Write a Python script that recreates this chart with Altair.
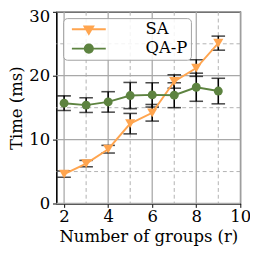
import altair as alt
import pandas as pd

groups = [2, 3, 4, 5, 6, 7, 8, 9]
sa_time = [4.6, 6.25, 8.5, 12.5, 14.2, 19.1, 21.2, 25.1]
sa_err = [0.5, 0.5, 0.6, 1.6, 1.3, 1.05, 1.3, 1.1]
qap_time = [15.7, 15.4, 15.9, 16.9, 17.0, 16.95, 18.2, 17.6]
qap_err = [1.15, 1.15, 1.6, 2.05, 1.9, 1.95, 2.2, 2.0]
series_names = ["SA", "QA-P"]
series_colors = ["#ffa54f", "#5d8340"]
series_shapes = ["triangle-down", "circle"]
series_sizes = [110, 85]
x_ticks = [2, 3, 4, 5, 6, 7, 8, 9, 10]
y_ticks = [0, 5, 10, 15, 20, 25, 30]

rows = []
for name, vals, errs in [("SA", sa_time, sa_err), ("QA-P", qap_time, qap_err)]:
    for g, v, e in zip(groups, vals, errs):
        rows.append({"r": g, "series": name, "t": v, "lo": v - e, "hi": v + e})
df = pd.DataFrame(rows)

xgrid = pd.DataFrame({"v": x_ticks, "minor": [v % 2 == 1 for v in x_ticks]})
ygrid = pd.DataFrame({"v": y_ticks, "minor": [v % 10 != 0 for v in y_ticks]})

FONT = "DejaVu Serif"
TITLE_Y = "Time (ms)"

xscale = alt.Scale(domain=[1.65, 10], nice=False, zero=False)
yscale = alt.Scale(domain=[0, 30], nice=False)
cscale = alt.Scale(domain=series_names, range=series_colors)

xaxis = alt.Axis(
    values=x_ticks, title="Number of groups (r)", grid=False,
    labelExpr="datum.value % 2 == 0 ? datum.label : ''",
    labelOverlap=False, labelFlush=False,
    tickSize={"condition": {"test": "datum.value % 2 == 1", "value": 2}, "value": 4},
    titlePadding=4, labelPadding=2,
)
yaxis = alt.Axis(
    values=y_ticks, title=TITLE_Y, grid=False,
    labelExpr="datum.value % 10 == 0 ? datum.label : ''",
    labelOverlap=False, labelFlush=False,
    labelOffset={"condition": {"test": "datum.value == 30", "value": 5}, "value": 0},
    tickSize={"condition": {"test": "datum.value % 10 != 0", "value": 2}, "value": 4},
    titlePadding=3, labelPadding=3,
)

sa_path = "M-3.5,0H3.5M-0.9,-0.6L0.9,-0.6L0,0.96Z"
qap_path = "M-3.5,0H3.5M-0.85,0A0.85,0.85,0,1,0,0.85,0A0.85,0.85,0,1,0,-0.85,0Z"

legend = alt.Legend(
    title=None, orient="none", legendX=7, legendY=6.5,
    padding=3, symbolSize=100, symbolOffset=15, labelOffset=50,
    rowPadding=1, labelFont=FONT, labelFontSize=17, labelColor="black",
    strokeColor="#a0a0a0", fillColor="rgba(255,255,255,0.85)", cornerRadius=4,
    symbolOpacity=1,
    symbolType={"expr": f"datum.value == 'SA' ? '{sa_path}' : '{qap_path}'"},
    symbolStrokeColor={"expr": "scale('color', datum.value)"},
    symbolFillColor={"expr": "scale('color', datum.value)"},
    symbolStrokeWidth=2,
)

gx_major = alt.Chart(xgrid).transform_filter("!datum.minor").mark_rule(
    color="#a8a8a8", strokeWidth=1.3
).encode(x=alt.X("v:Q", scale=xscale, axis=xaxis))
gx_minor = alt.Chart(xgrid).transform_filter("datum.minor").mark_rule(
    color="#b0b0b0", strokeWidth=1, strokeDash=[4, 3]
).encode(x=alt.X("v:Q", scale=xscale))
gy_major = alt.Chart(ygrid).transform_filter("!datum.minor").mark_rule(
    color="#a8a8a8", strokeWidth=1.3
).encode(y=alt.Y("v:Q", scale=yscale, axis=yaxis))
gy_minor = alt.Chart(ygrid).transform_filter("datum.minor").mark_rule(
    color="#b0b0b0", strokeWidth=1, strokeDash=[4, 3]
).encode(y=alt.Y("v:Q", scale=yscale))

base = alt.Chart(df)

err = base.mark_errorbar(
    color="black", thickness=1.6,
    ticks={"size": 14, "thickness": 1.6, "color": "black"},
).encode(
    x=alt.X("r:Q", scale=xscale),
    y=alt.Y("lo:Q", scale=yscale, title=TITLE_Y),
    y2="hi:Q",
)

line = base.mark_line(strokeWidth=2).encode(
    x=alt.X("r:Q", scale=xscale),
    y=alt.Y("t:Q", scale=yscale, title=TITLE_Y),
    color=alt.Color("series:N", scale=cscale, legend=legend),
    detail="series:N",
)

pt_layers = []
for name, col, shp, sz in zip(series_names, series_colors, series_shapes, series_sizes):
    pt_layers.append(
        base.transform_filter(alt.datum.series == name).mark_point(
            filled=True, opacity=1, color=col, shape=shp, size=sz
        ).encode(
            x=alt.X("r:Q", scale=xscale),
            y=alt.Y("t:Q", scale=yscale, title=TITLE_Y),
        )
    )

chart = alt.layer(gx_minor, gy_minor, gx_major, gy_major, err, line, *pt_layers).properties(
    width=190, height=198,
    autosize=alt.AutoSizeParams(type="none"),
    padding={"left": 50, "top": 0, "right": 10, "bottom": 42},
).configure_view(
    stroke="black", strokeWidth=1.2
).configure_axis(
    labelFont=FONT, titleFont=FONT, labelFontSize=17, titleFontSize=17,
    titleFontWeight="normal", labelColor="black", titleColor="black",
    domainColor="black", tickColor="black", tickWidth=1, domainWidth=1.2,
).configure_legend(
    strokeColor="#a0a0a0", strokeWidth=1,
)

chart.save("out.html", embed_options={"renderer": "svg", "actions": False})
